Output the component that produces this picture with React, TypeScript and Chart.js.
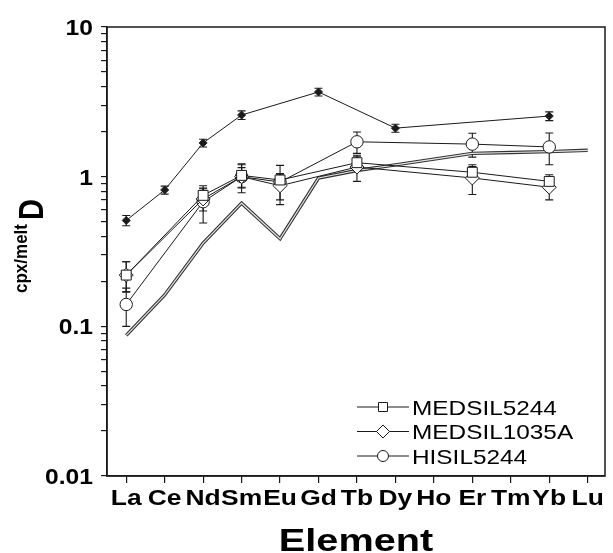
import React, { useEffect, useRef } from "react";
import { Chart, registerables } from "chart.js";

Chart.register(...registerables);

// ---- data ----
const elements = ["La", "Ce", "Nd", "Sm", "Eu", "Gd", "Tb", "Dy", "Ho", "Er", "Tm", "Yb", "Lu"];
const yTickValues = [0.01, 0.1, 1, 10];
const yTickLabels = ["0.01", "0.1", "1", "10"];
const legendLabels = ["MEDSIL5244", "MEDSIL1035A", "HISIL5244"];

// null = no value for that element
const filledD = [0.51, 0.815, 1.68, 2.58, null, 3.68, null, 2.11, null, null, null, 2.54, null];
const filledErr = [0.04, 0.05, 0.1, 0.17, null, 0.22, null, 0.13, null, null, null, 0.17, null];

const medsil5244 = [0.22, null, 0.75, 1.02, 0.95, null, 1.24, null, null, 1.07, null, 0.93, null];
const medsil5244Err = [0.05, null, 0.09, 0.18, 0.1, null, 0.12, null, null, 0.1, null, 0.1, null];

const medsil1035A = [0.22, null, 0.71, 1.0, 0.87, null, 1.16, null, null, 0.98, null, 0.85, null];
const medsil1035AErr = [0.05, null, 0.12, 0.22, 0.17, null, 0.23, null, null, 0.22, null, 0.15, null];

const hisil5244 = [0.14, null, 0.68, 1.0, 0.92, null, 1.71, null, null, 1.65, null, 1.58, null];
const hisil5244Err = [0.04, null, 0.19, 0.15, 0.27, null, 0.28, null, null, 0.3, null, 0.38, null];

const modelD = [0.087, 0.162, 0.36, 0.665, 0.385, 0.98, 1.1, 1.2, 1.31, 1.43, 1.45, 1.47, 1.5];

// ---- helpers ----
type Pt = { x: number; y: number; e: number };
function pts(vals: (number | null)[], errs?: (number | null)[]): Pt[] {
  const out: Pt[] = [];
  vals.forEach((v, i) => {
    if (v != null) out.push({ x: i + 1, y: v, e: errs && errs[i] != null ? (errs[i] as number) : 0 });
  });
  return out;
}

const INK = "#1a1a1a";
const FONT = "'Liberation Sans', Arial, Helvetica, sans-serif";

function sText(ctx: CanvasRenderingContext2D, text: string, x: number, y: number, font: string, sx: number, align: CanvasTextAlign) {
  ctx.save();
  ctx.font = font;
  ctx.textAlign = align;
  ctx.textBaseline = "alphabetic";
  ctx.translate(x, y);
  ctx.scale(sx, 1);
  ctx.fillText(text, 0, 0);
  ctx.restore();
}

const errPlugin = {
  id: "errbars",
  beforeDatasetsDraw(chart: any) {
    const { ctx, scales } = chart;
    const x = scales.x, y = scales.y;
    ctx.save();
    ctx.strokeStyle = INK;
    ctx.lineWidth = 1.1;
    chart.data.datasets.forEach((ds: any) => {
      if (!ds.errorBars) return;
      ds.data.forEach((p: Pt) => {
        if (!p.e) return;
        const px = x.getPixelForValue(p.x);
        const t = y.getPixelForValue(p.y + p.e);
        const b = y.getPixelForValue(p.y - p.e);
        ctx.beginPath();
        ctx.moveTo(px, t); ctx.lineTo(px, b);
        ctx.moveTo(px - 4, t); ctx.lineTo(px + 4, t);
        ctx.moveTo(px - 4, b); ctx.lineTo(px + 4, b);
        ctx.stroke();
      });
    });
    ctx.restore();
  },
};

const textPlugin = {
  id: "texts",
  afterDraw(chart: any) {
    const { ctx, chartArea, scales } = chart;
    const x = scales.x, y = scales.y;
    ctx.save();
    ctx.fillStyle = "#000";
    // frame
    ctx.strokeStyle = INK;
    ctx.lineWidth = 1.5;
    ctx.strokeRect(chartArea.left, chartArea.top, chartArea.right - chartArea.left, chartArea.bottom - chartArea.top);

    // y tick labels
    yTickValues.forEach((v, i) => {
      const py = y.getPixelForValue(v);
      sText(ctx, yTickLabels[i], chartArea.left - 14, py + 8, `bold 22px ${FONT}`, 1.12, "right");
    });
    // x tick labels
    elements.forEach((el, i) => {
      const px = x.getPixelForValue(i + 1);
      sText(ctx, el, px, chartArea.bottom + 29, `bold 22px ${FONT}`, 1.2, "center");
    });
    // x title
    sText(ctx, "Element", (chartArea.left + chartArea.right) / 2, 551, `bold 31px ${FONT}`, 1.28, "center");

    // y title (rotated)
    ctx.save();
    ctx.translate(27, 293);
    ctx.rotate(-Math.PI / 2);
    ctx.scale(1, 1.1);
    ctx.font = `bold 17px ${FONT}`;
    ctx.textAlign = "left";
    ctx.fillText("cpx/melt", 0, 0);
    ctx.restore();
    ctx.save();
    ctx.translate(43, 220);
    ctx.rotate(-Math.PI / 2);
    ctx.scale(1, 1.2);
    ctx.font = `bold 29px ${FONT}`;
    ctx.textAlign = "left";
    ctx.fillText("D", 0, 0);
    ctx.restore();

    // legend
    const styles = ["rect", "diamond", "circle"];
    legendLabels.forEach((lab, i) => {
      const cy = chartArea.bottom - 69 + i * 24.5;
      const x0 = chartArea.right - 248;
      const x1 = chartArea.right - 196;
      const mx = (x0 + x1) / 2;
      ctx.strokeStyle = INK;
      ctx.lineWidth = 1;
      ctx.beginPath();
      ctx.moveTo(x0, cy); ctx.lineTo(x1, cy);
      ctx.stroke();
      ctx.fillStyle = "#fff";
      ctx.beginPath();
      if (styles[i] === "rect") ctx.rect(mx - 4.5, cy - 4.5, 9, 9);
      else if (styles[i] === "diamond") {
        ctx.moveTo(mx, cy - 6.5); ctx.lineTo(mx + 6.5, cy); ctx.lineTo(mx, cy + 6.5); ctx.lineTo(mx - 6.5, cy); ctx.closePath();
      } else ctx.arc(mx, cy, 5.5, 0, Math.PI * 2);
      ctx.fill();
      ctx.stroke();
      ctx.fillStyle = "#000";
      sText(ctx, lab, x1 + 3, cy + 7.5, `21px ${FONT}`, 1.16, "left");
    });
    ctx.restore();
  },
};

export default function App() {
  const ref = useRef<HTMLCanvasElement | null>(null);
  useEffect(() => {
    if (!ref.current) return;
    const lineBase = { showLine: true, borderColor: INK, borderWidth: 1, pointBorderColor: INK, pointBorderWidth: 1, pointBackgroundColor: "#fff", errorBars: true };
    const chart = new Chart(ref.current, {
      type: "line",
      data: {
        datasets: [
          { ...lineBase, label: legendLabels[0], data: pts(medsil5244, medsil5244Err), pointStyle: "rect", pointRadius: 7, order: 0 } as any,
          { ...lineBase, label: legendLabels[1], data: pts(medsil1035A, medsil1035AErr), pointStyle: "rectRot", pointRadius: 7, order: 0 } as any,
          { ...lineBase, label: legendLabels[2], data: pts(hisil5244, hisil5244Err), pointStyle: "circle", pointRadius: 6.2, order: 0 } as any,
          { ...lineBase, label: "filled", data: pts(filledD, filledErr), pointStyle: "rectRot", pointRadius: 4, pointBackgroundColor: INK, order: 1 } as any,
          { label: "model-inner", data: pts(modelD), borderColor: "#e2e2e2", borderWidth: 1.2, pointRadius: 0, order: 2 } as any,
          { label: "model-outer", data: pts(modelD), borderColor: "#333333", borderWidth: 3.4, pointRadius: 0, order: 3 } as any,
        ],
      },
      options: {
        responsive: false,
        animation: false,
        devicePixelRatio: 1,
        layout: { padding: { top: 27, right: 2, left: 0, bottom: 0 } },
        plugins: { legend: { display: false }, tooltip: { enabled: false } },
        elements: { line: { tension: 0 } },
        scales: {
          x: {
            type: "linear",
            min: 0.5,
            max: 13.45,
            afterBuildTicks: (s: any) => { s.ticks = elements.map((_, i) => ({ value: i + 1 })); },
            afterFit: (s: any) => { s.height = 77; },
            grid: { display: true, drawOnChartArea: false, drawTicks: true, tickLength: 7, color: INK, lineWidth: 1.2 },
            border: { display: true, color: INK, width: 1.5 },
            ticks: { display: false },
          },
          y: {
            type: "logarithmic",
            min: 0.01,
            max: 10,
            afterBuildTicks: (s: any) => {
              const t: { value: number }[] = [];
              for (let e = -2; e <= 0; e++) for (let m = 1; m <= 9; m++) t.push({ value: Number((m * Math.pow(10, e)).toPrecision(3)) });
              t.push({ value: 10 });
              s.ticks = t;
            },
            afterFit: (s: any) => { s.width = 107; },
            grid: { display: true, drawOnChartArea: false, drawTicks: true, tickLength: 6, color: INK, lineWidth: 1.2 },
            border: { display: true, color: INK, width: 1.5 },
            ticks: { display: false },
          },
        },
      } as any,
      plugins: [errPlugin, textPlugin],
    });
    return () => chart.destroy();
  }, []);
  return (
    <div style={{ position: "fixed", left: 0, top: 0, width: 613, height: 553, background: "#fff" }}>
      <canvas ref={ref} width={613} height={553} style={{ display: "block" }} />
    </div>
  );
}
